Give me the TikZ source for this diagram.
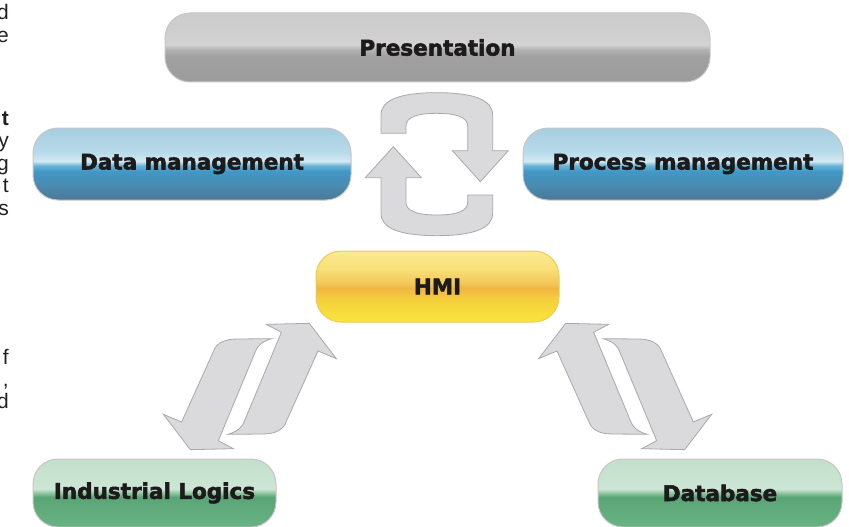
\documentclass[tikz,border=0pt]{standalone}
\usepackage{fontspec}
\setmainfont{Liberation Sans}
\newfontfamily\boxfont{DejaVu Sans}[BoldFeatures={FakeBold=2.5}]
\definecolor{textcol}{HTML}{1C1A1B}
\definecolor{fragcol}{HTML}{231F20}
\definecolor{arrowfill}{HTML}{DADADC}
\definecolor{arrowline}{HTML}{A9A9AB}
\definecolor{grayborder}{HTML}{C6C6C6}
\definecolor{yellowborder}{HTML}{EFCB52}
\pgfdeclareverticalshading{grayglass}{100bp}{color(0bp)=(black!39!white); color(25bp)=(black!39!white); color(44bp)=(black!37!white); color(49bp)=(black!29!white); color(52bp)=(black!17!white); color(60bp)=(black!19!white); color(75bp)=(black!20!white); color(100bp)=(black!20!white)}
\definecolor{b1}{HTML}{4A7898}\definecolor{b2}{HTML}{4A8AB0}\definecolor{b3}{HTML}{4198C6}\definecolor{b4}{HTML}{6AB5D8}\definecolor{b5}{HTML}{D3EAF2}\definecolor{b6}{HTML}{B8DBEA}\definecolor{b7}{HTML}{A6CEE0}
\pgfdeclareverticalshading{blueglass}{100bp}{color(0bp)=(b1); color(25bp)=(b1); color(35bp)=(b2); color(45bp)=(b3); color(49bp)=(b4); color(52bp)=(b5); color(58bp)=(b6); color(75bp)=(b7); color(100bp)=(b7)}
\definecolor{y1}{HTML}{F9E53C}\definecolor{y2}{HTML}{F5D23C}\definecolor{y3}{HTML}{F0B642}\definecolor{y4}{HTML}{F3C657}\definecolor{y5}{HTML}{F8DF78}\definecolor{y6}{HTML}{FBEA90}
\pgfdeclareverticalshading{yellowglass}{100bp}{color(0bp)=(y1); color(25bp)=(y1); color(40bp)=(y2); color(49bp)=(y3); color(52bp)=(y4); color(62bp)=(y5); color(75bp)=(y6); color(100bp)=(y6)}
\definecolor{gr1}{HTML}{68B383}\definecolor{gr2}{HTML}{5FA97B}\definecolor{gr3}{HTML}{5AA574}\definecolor{gr4}{HTML}{8FC59F}\definecolor{gr5}{HTML}{CDE6D5}\definecolor{gr6}{HTML}{C3DFCB}
\pgfdeclareverticalshading{greenglass}{100bp}{color(0bp)=(gr1); color(25bp)=(gr1); color(40bp)=(gr2); color(47bp)=(gr3); color(50bp)=(gr4); color(53bp)=(gr5); color(75bp)=(gr6); color(100bp)=(gr6)}
\tikzset{
  arr/.style={fill=arrowfill, draw=arrowline, line width=0.8, line join=miter},
  box/.style={rounded corners=25, inner sep=0, draw=grayborder, line width=1,
    font=\boxfont\bfseries\fontsize{21.5}{26}\selectfont, text=textcol},
  frag/.style={font=\fontsize{21}{25}\selectfont, text=fragcol, inner sep=0, anchor=base east},
  cyclearrow/.pic={
    \path[arr] (93,160) -- (93,105) .. controls (93,60) and (150,38) .. (260,38)
      .. controls (372,38) and (428,60) .. (428,105) -- (428,212) -- (475,212)
      -- (391,305) -- (307,212) -- (353,212) -- (353,138)
      .. controls (353,112) and (320,100) .. (260,100)
      .. controls (200,100) and (168,112) .. (168,138) -- (168,160) -- cycle;
  },
  slantarrow/.pic={
    \path[arr] (365,86) .. controls (335,95) and (322,108) .. (316,125)
      -- (205,392) -- (250,416) -- (121,419) -- (40,313) -- (95,336)
      -- (190,125) .. controls (198,100) and (222,87) .. (262,87) -- cycle;
  }
}
\begin{document}
\begin{tikzpicture}[x=1pt,y=-1pt]
\useasboundingbox (0,0) rectangle (849,527);

% fragments of neighbouring text
\node[frag] (fa) at (9,20) {d};
\node[frag] (fb) at (9,43) {e};
\node[frag, font=\bfseries\fontsize{21}{25}\selectfont] (fc) at (9,125) {t};
\node[frag] (fd) at (9,147.5) {y};
\node[frag] (fe) at (9,170) {g};
\node[frag] (ff) at (9,192.5) {t};
\node[frag] (fg) at (9,215) {s};
\node[frag] (fh) at (9,364) {f};
\node[frag] (fi) at (9,386) {,};
\node[frag] (fj) at (9,408) {d};

% cycle arrows
\begin{scope}[shift={(350,80)}, scale=1/3]
  \pic[transform shape] {cyclearrow};
  \begin{scope}[shift={(521,505)}, scale=-1]
    \pic[transform shape] {cyclearrow};
  \end{scope}
\end{scope}

% left pair
\begin{scope}[shift={(150,310)}, scale=1/3]
  \pic[transform shape] {slantarrow};
  \begin{scope}[shift={(599,459)}, scale=-1]
    \pic[transform shape] {slantarrow};
  \end{scope}
\end{scope}

% right pair (mirror)
\begin{scope}[shift={(875,0)}, xscale=-1]
  \begin{scope}[shift={(150,310)}, scale=1/3]
    \pic[transform shape] {slantarrow};
    \begin{scope}[shift={(599,459)}, scale=-1]
      \pic[transform shape] {slantarrow};
    \end{scope}
  \end{scope}
\end{scope}

% boxes
\node[box, shading=grayglass, minimum width=545, minimum height=69] (pres) at (437.5,47.5) {Presentation};
\node[box, shading=blueglass, minimum width=318, minimum height=72] (data) at (192,164) {Data management};
\node[box, shading=blueglass, minimum width=320, minimum height=72] (proc) at (683,164) {Process management};
\node[box, shading=yellowglass, draw=yellowborder, minimum width=243, minimum height=71] (hmi) at (437.5,286.5) {HMI};
\node[box, shading=greenglass, minimum width=243, minimum height=68] (ind) at (154.5,493) {Industrial Logics};
\node[box, shading=greenglass, minimum width=244, minimum height=68] (db) at (720,493) {Database};
\end{tikzpicture}
\end{document}
